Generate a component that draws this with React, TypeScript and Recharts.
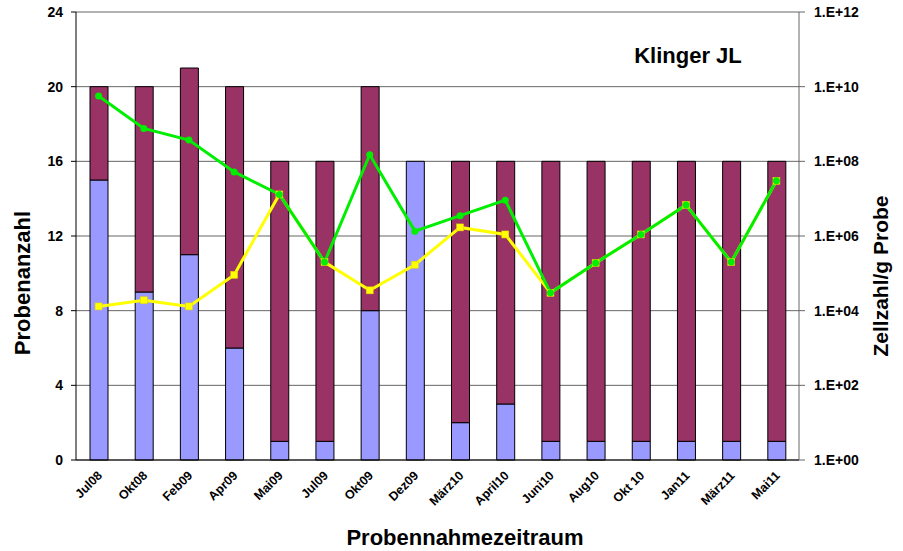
import React from "react";
import { ComposedChart, Bar, Line, XAxis, YAxis, CartesianGrid } from "recharts";

// Probennahmezeitraum
const categories = [
  "Jul08", "Okt08", "Feb09", "Apr09", "Mai09", "Jul09", "Okt09", "Dez09",
  "März10", "April10", "Juni10", "Aug10", "Okt 10", "Jan11", "März11", "Mai11",
];
// Probenanzahl (gestapelt)
const blueCounts = [15, 9, 11, 6, 1, 1, 8, 16, 2, 3, 1, 1, 1, 1, 1, 1];
const purpleCounts = [5, 11, 10, 14, 15, 15, 12, 0, 14, 13, 15, 15, 15, 15, 15, 15];
// Zellzahl/g Probe
const greenCells = [
  5.6e9, 7.6e8, 3.7e8, 5.2e7, 1.3e7, 2.0e5, 1.5e8, 1.35e6,
  3.5e6, 9.1e6, 3.0e4, 1.9e5, 1.1e6, 6.8e6, 2.0e5, 3.0e7,
];
const yellowCells = [
  1.3e4, 1.9e4, 1.3e4, 9.1e4, 1.3e7, 2.0e5, 3.5e4, 1.7e5,
  1.7e6, 1.1e6, 3.0e4, 1.9e5, 1.1e6, 6.8e6, 2.0e5, 3.0e7,
];
const leftTicks = [0, 4, 8, 12, 16, 20, 24];
const rightTicks = [1, 1e2, 1e4, 1e6, 1e8, 1e10, 1e12];

const data = categories.map((c, i) => ({
  name: c,
  blue: blueCounts[i],
  purple: purpleCounts[i],
  green: greenCells[i],
  yellow: yellowCells[i],
}));

const FONT = "'Liberation Sans', Arial, sans-serif";

const W = 903;
const H = 551;
const LEFT_W = 76;
const RIGHT_W = 104;
const X_H = 91;
const TOP = 12;
const bandW = (W - LEFT_W - RIGHT_W) / categories.length;

const expFormat = (v: number) => {
  const e = Math.round(Math.log10(v));
  return "1.E+" + String(e).padStart(2, "0");
};

// tick marks between categories (Excel style)
const BoundaryTicks = (props: any) => {
  const { x, y } = props;
  return <path d={`M${x - bandW / 2},${y} L${x - bandW / 2},${y + 6}`} stroke="#000" strokeWidth={1} fill="none" />;
};

const SquareDot = (props: any) => {
  const { cx, cy, index } = props;
  if (cx == null || cy == null) return null;
  return <rect key={index} x={cx - 3.5} y={cy - 3.5} width={7} height={7} fill="#ffff00" stroke="#e0d000" strokeWidth={0.5} />;
};

const RoundDot = (props: any) => {
  const { cx, cy, index } = props;
  if (cx == null || cy == null) return null;
  return <circle key={index} cx={cx} cy={cy} r={3.5} fill="#00ee00" />;
};

const titleStyle: React.CSSProperties = {
  position: "absolute",
  fontFamily: FONT,
  fontWeight: "bold",
  color: "#000",
  whiteSpace: "nowrap",
  lineHeight: 1,
  transform: "translate(-50%, -50%)",
};

export default function App() {
  return (
    <div style={{ position: "absolute", left: 0, top: 0, width: W, height: H, background: "#fff" }}>
      <ComposedChart
        width={W}
        height={H}
        data={data}
        margin={{ top: TOP, right: 0, left: 0, bottom: 0 }}
        barSize={18}
      >
        <CartesianGrid vertical={false} stroke="#666" yAxisId="left" />
        {/* boundary tick marks only */}
        <XAxis
          xAxisId="marks"
          dataKey="name"
          height={0}
          tick={(p: any) => <BoundaryTicks {...p} y={H - X_H} />}
          tickLine={false}
          axisLine={false}
          interval={0}
        />
        <XAxis
          dataKey="name"
          height={X_H}
          interval={0}
          angle={-45}
          textAnchor="end"
          tickLine={false}
          tickMargin={4}
          tick={{ fontFamily: FONT, fontWeight: "bold", fontSize: 12.5, fill: "#000", dx: -2 }}
          axisLine={{ stroke: "#000" }}
        />
        <YAxis
          yAxisId="left"
          domain={[0, 24]}
          ticks={leftTicks}
          width={LEFT_W}
          tick={{ fontFamily: FONT, fontWeight: "bold", fontSize: 14, fill: "#000" }}
          tickLine={{ stroke: "#000" }}
          tickSize={5}
          tickMargin={8}
          axisLine={{ stroke: "#000" }}
        />
        <YAxis
          yAxisId="right"
          orientation="right"
          scale="log"
          domain={[1, 1e12]}
          ticks={rightTicks}
          allowDataOverflow
          width={RIGHT_W}
          tickFormatter={expFormat}
          tick={{ fontFamily: FONT, fontWeight: "bold", fontSize: 14, fill: "#000" }}
          tickLine={{ stroke: "#666" }}
          tickSize={6}
          tickMargin={9}
          axisLine={{ stroke: "#666" }}
        />
        <Bar yAxisId="left" dataKey="blue" stackId="a" fill="#9999ff" stroke="#000" strokeWidth={1} isAnimationActive={false} />
        <Bar yAxisId="left" dataKey="purple" stackId="a" fill="#993366" stroke="#000" strokeWidth={1} isAnimationActive={false} />
        <Line
          yAxisId="right"
          dataKey="yellow"
          stroke="#ffff00"
          strokeWidth={3}
          dot={SquareDot}
          activeDot={false}
          isAnimationActive={false}
        />
        <Line
          yAxisId="right"
          dataKey="green"
          stroke="#00ee00"
          strokeWidth={3}
          dot={RoundDot}
          activeDot={false}
          isAnimationActive={false}
        />
      </ComposedChart>

      <div style={{ ...titleStyle, left: 688, top: 56, fontSize: 22 }}>Klinger JL</div>
      <div style={{ ...titleStyle, left: 465, top: 538, fontSize: 22 }}>Probennahmezeitraum</div>
      <div style={{ ...titleStyle, left: 23, top: 283, fontSize: 22, transform: "translate(-50%, -50%) rotate(-90deg)" }}>
        Probenanzahl
      </div>
      <div style={{ ...titleStyle, left: 880, top: 276, fontSize: 21, transform: "translate(-50%, -50%) rotate(-90deg)" }}>
        Zellzahl/g Probe
      </div>
    </div>
  );
}
